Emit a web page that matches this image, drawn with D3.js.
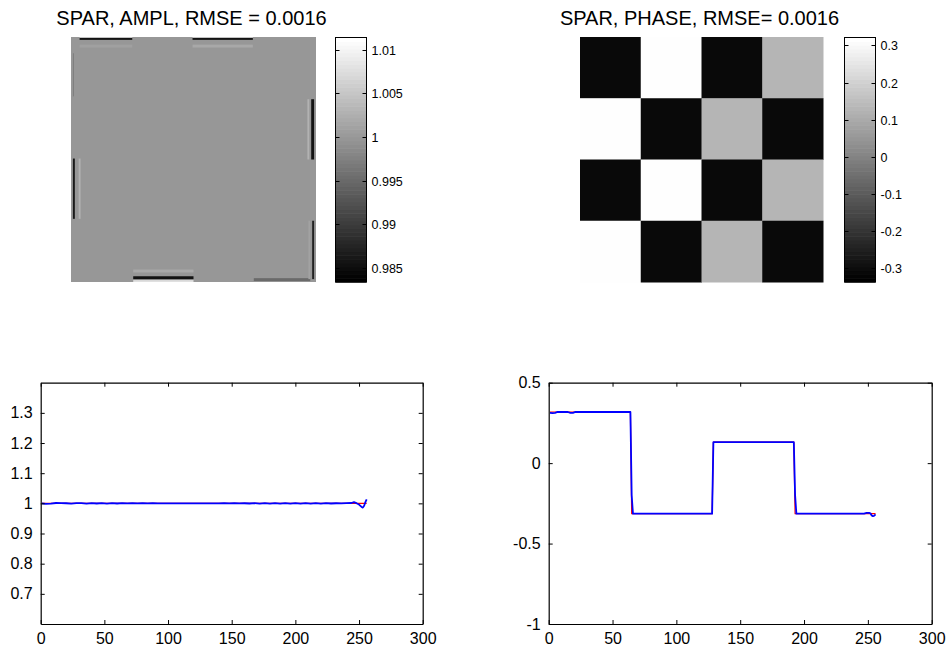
<!DOCTYPE html>
<html><head><meta charset="utf-8">
<script src="https://cdn.jsdelivr.net/npm/d3@7"></script>
<style>
html,body{margin:0;padding:0;background:#fff;}
svg{display:block;font-family:"Liberation Sans",Arial,sans-serif;}
</style></head>
<body><svg id="c" width="948" height="654"></svg>
<script>
// ---------- DATA ----------
const titles = ["SPAR, AMPL, RMSE = 0.0016", "SPAR, PHASE, RMSE= 0.0016"];
// amplitude image: 256x256 grid, base value plus edge ringing strips [gx0,gx1,gy0,gy1,value]
const ampBase = 1.0;
const ampStrips = [
  [9,64,0,1,1.006],[9,64,1,3,0.9855],[9,64,8,11,1.001],
  [127,190,0,1,1.006],[127,190,1,3,0.9855],[127,190,8,11,1.0018],
  [65,128,243,246,1.002],[65,128,250,253,0.9855],[65,128,254,256,1.008],
  [191,250,252,255,0.995],
  [247,249,65,128,1.003],[251,254,65,128,0.9855],
  [252,254,192,253,0.987],[248,250,192,253,1.0012],
  [2,4,127,190,0.986],[8,10,127,190,1.003],
  [2,3,17,62,0.997]
];
const ampCbarTicks = [0.985, 0.99, 0.995, 1, 1.005, 1.01];
const ampCbarDomain = [0.9834, 1.0114];
// phase image: 4x4 blocks
const phaseGrid = [
  [-0.314, 0.318, -0.314, 0.13],
  [0.318, -0.314, 0.13, -0.314],
  [-0.314, 0.318, -0.314, 0.13],
  [0.318, -0.314, 0.13, -0.314]
];
const phaseCbarTicks = [-0.3, -0.2, -0.1, 0, 0.1, 0.2, 0.3];
const phaseCbarTickLabels = ["-0.3", "-0.2", "-0.1", "0", "0.1", "0.2", "0.3"];
const phaseCbarDomain = [-0.3376, 0.3215];
// profile line: amplitude
const ampX = [1,4,8,12,16,20,24,28,32,36,40,44,48,52,56,60,64,68,72,76,80,84,88,92,96,100,104,108,112,116,120,124,128,132,136,140,144,148,152,156,160,164,168,172,176,180,184,188,192,196,200,204,208,212,216,220,224,228,232,236,240,244,246,248,250,252,253,254,255,256];
const ampY = [1.000,0.9985,0.999,1.0012,1.0008,1.0004,0.9992,1.0008,1.0006,0.9994,1.0008,0.9995,1.0009,0.9993,1.0008,0.9995,1.0006,0.9996,1.0004,0.9997,1.0003,0.9998,1.0003,0.9998,1.0002,0.9999,1.0002,0.9999,1.0002,1.0,1.0001,1.0,1.0002,0.9999,1.0002,0.9998,1.0003,0.9997,1.0004,0.9996,1.0004,0.9995,1.0006,0.9994,1.0006,0.9993,1.0007,0.9993,1.0008,0.9992,1.0008,0.9993,1.0008,0.9992,1.0007,0.9994,1.0006,0.9995,1.0004,0.9996,1.0006,1.0012,1.004,1.0005,0.996,0.988,0.986,0.992,1.004,1.013];
const ampTrueX = [1, 256];
const ampTrueY = [1, 1];
// profile line: phase
const phX = [1,3,5,7,9,15,17,19,21,64,65,66,128,129,130,192,193,194,247,249,251,252,253,254,255,256];
const phY = [0.312,0.311,0.313,0.318,0.318,0.318,0.312,0.313,0.318,0.318,-0.2,-0.314,-0.314,0.13,0.13,0.13,-0.2,-0.314,-0.314,-0.309,-0.309,-0.312,-0.325,-0.33,-0.327,-0.318];
const phTrueX = [1,64,65,128,129,192,193,256];
const phTrueY = [0.318,0.318,-0.314,-0.314,0.13,0.13,-0.314,-0.314];
const xTicks = [0,50,100,150,200,250,300];
const ampYTicks = [0.7,0.8,0.9,1,1.1,1.2,1.3];
const phYTicks = [-1,-0.5,0,0.5];
const phYTickLabels = ["-1","-0.5","0","0.5"];

// ---------- DRAW ----------
const svg = d3.select("#c");
const gray = v => { const c = Math.round(Math.max(0, Math.min(1, v)) * 255); return `rgb(${c},${c},${c})`; };

function imagePanel(x0, x1, title, drawFn) {
  const g = svg.append("g");
  drawFn(g);
  svg.append("text").attr("x", (x0 + x1) / 2 - 2).attr("y", 25).attr("text-anchor", "middle")
    .attr("font-size", 20).attr("fill", "#000").text(title);
}

// amplitude image
{
  const x = d3.scaleLinear().domain([0, 256]).range([71, 316]);
  const y = d3.scaleLinear().domain([0, 256]).range([37, 282]);
  const c = d3.scaleLinear().domain(ampCbarDomain).range([0, 1]);
  imagePanel(71, 316, titles[0], g => {
    g.append("rect").attr("x", x(0)).attr("y", y(0)).attr("width", x(256) - x(0)).attr("height", y(256) - y(0))
      .attr("fill", gray(c(ampBase)));
    g.selectAll(".s").data(ampStrips).join("rect")
      .attr("x", d => x(d[0])).attr("y", d => y(d[2]))
      .attr("width", d => x(d[1]) - x(d[0])).attr("height", d => y(d[3]) - y(d[2]))
      .attr("fill", d => gray(c(d[4])));
  });
}
// phase image
{
  const x = d3.scaleBand().domain(d3.range(4)).range([580, 823]);
  const y = d3.scaleBand().domain(d3.range(4)).range([37, 282]);
  const c = d3.scaleLinear().domain(phaseCbarDomain).range([0, 1]);
  const cells = [];
  phaseGrid.forEach((row, r) => row.forEach((v, k) => cells.push({ r, k, v })));
  imagePanel(580, 823, titles[1], g => {
    g.selectAll("rect").data(cells).join("rect")
      .attr("x", d => x(d.k)).attr("y", d => y(d.r))
      .attr("width", x.bandwidth() + 0.5).attr("height", y.bandwidth() + 0.5)
      .attr("fill", d => gray(c(d.v)));
  });
}

function colorbar(x0, x1, y0, y1, domain, ticks, labels) {
  const y = d3.scaleLinear().domain(domain).range([y1, y0]);
  const n = 64;
  const g = svg.append("g");
  const levels = d3.range(n);
  const step = (domain[1] - domain[0]) / n;
  g.selectAll("rect.l").data(levels).join("rect")
    .attr("x", x0).attr("width", x1 - x0)
    .attr("y", i => y(domain[0] + (i + 1) * step))
    .attr("height", i => y(domain[0] + i * step) - y(domain[0] + (i + 1) * step) + 0.6)
    .attr("fill", i => gray(i / (n - 1)));
  g.append("rect").attr("x", x0).attr("y", y0).attr("width", x1 - x0).attr("height", y1 - y0)
    .attr("fill", "none").attr("stroke", "#000").attr("stroke-width", 1);
  ticks.forEach((t, i) => {
    const ty = Math.round(y(t)) + 0.5;
    g.append("line").attr("x1", x0).attr("x2", x0 + 4).attr("y1", ty).attr("y2", ty).attr("stroke", "#000");
    g.append("line").attr("x1", x1 - 4).attr("x2", x1).attr("y1", ty).attr("y2", ty).attr("stroke", "#000");
    g.append("text").attr("x", x1 + 5).attr("y", ty + 4).attr("font-size", 12.5).attr("fill", "#000")
      .text(labels ? labels[i] : String(t));
  });
}
colorbar(335.5, 366.5, 37.5, 282, ampCbarDomain, ampCbarTicks, null);
colorbar(844.5, 875.5, 37.5, 282, phaseCbarDomain, phaseCbarTicks, phaseCbarTickLabels);

function linePanel(x0, x1, y0, y1, yDomain, yTicks, yLabels, series) {
  const x = d3.scaleLinear().domain([0, 300]).range([x0, x1]);
  const y = d3.scaleLinear().domain(yDomain).range([y1, y0]);
  const g = svg.append("g");
  const line = d3.line().x(d => x(d[0])).y(d => y(d[1]));
  series.forEach(s => {
    g.append("path").datum(s.xs.map((v, i) => [v, s.ys[i]])).attr("d", line)
      .attr("fill", "none").attr("stroke", s.color).attr("stroke-width", s.w).attr("stroke-linejoin", "round");
  });
  // axes (box with inward ticks)
  const bottom = g.append("g").attr("transform", `translate(0,${y1})`)
    .call(d3.axisBottom(x).tickValues(xTicks).tickSizeInner(-4).tickSizeOuter(0).tickPadding(9).tickFormat(d3.format("d")));
  const top = g.append("g").attr("transform", `translate(0,${y0})`)
    .call(d3.axisTop(x).tickValues(xTicks).tickSizeInner(-4).tickSizeOuter(0).tickFormat(""));
  const left = g.append("g").attr("transform", `translate(${x0},0)`)
    .call(d3.axisLeft(y).tickValues(yTicks).tickSizeInner(-4).tickSizeOuter(0).tickPadding(8)
      .tickFormat((d, i) => yLabels ? yLabels[i] : String(d)));
  const right = g.append("g").attr("transform", `translate(${x1},0)`)
    .call(d3.axisRight(y).tickValues(yTicks).tickSizeInner(-4).tickSizeOuter(0).tickFormat(""));
  [bottom, top, left, right].forEach(a => {
    a.selectAll("path.domain").attr("stroke", "#000").attr("stroke-width", 1.2);
    a.selectAll(".tick line").attr("stroke", "#000");
    a.selectAll("text").attr("font-size", 16).attr("fill", "#000").attr("font-family", "Liberation Sans, Arial, sans-serif");
  });
}
linePanel(40.7, 422.7, 382.7, 624, [0.6, 1.4], ampYTicks, null, [
  { xs: ampTrueX, ys: ampTrueY, color: "#ff0000", w: 1.2 },
  { xs: ampX, ys: ampY, color: "#0000ff", w: 1.8 }
]);
linePanel(548.7, 931.7, 382.7, 624, [-1, 0.5], phYTicks, phYTickLabels, [
  { xs: phTrueX, ys: phTrueY, color: "#ff0000", w: 1.2 },
  { xs: phX, ys: phY, color: "#0000ff", w: 1.8 }
]);
</script></body></html>
